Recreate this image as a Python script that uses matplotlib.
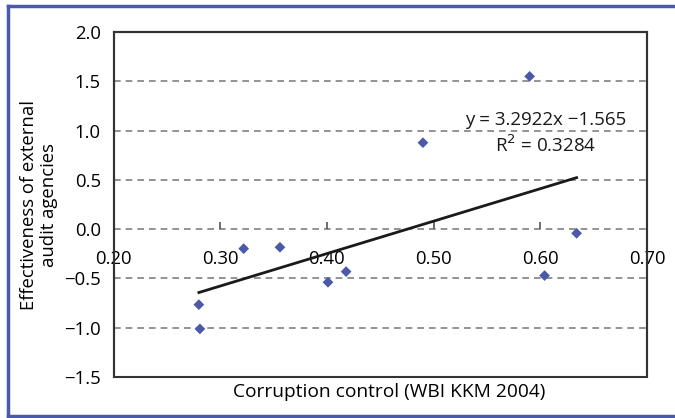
import matplotlib
matplotlib.use("Agg")
import matplotlib.pyplot as plt
from matplotlib.lines import Line2D
from matplotlib.patches import Rectangle
import numpy as np

plt.rcParams['font.family'] = ['Open Sans', 'DejaVu Sans']

corruption_control = [0.590, 0.490, 0.280, 0.281, 0.322, 0.356, 0.401, 0.418, 0.604, 0.634]
audit_effectiveness = [1.55, 0.877, -0.766, -1.012, -0.198, -0.184, -0.539, -0.431, -0.471, -0.042]
slope = 3.2922
intercept = -1.565
r_squared = 0.3284
x_ticks = [0.20, 0.30, 0.40, 0.50, 0.60, 0.70]
y_ticks = [-1.5, -1.0, -0.5, 0.0, 0.5, 1.0, 1.5, 2.0]

FS = 13.3
fig = plt.figure(figsize=(6.75, 4.18), dpi=100)
ax = fig.add_axes([113.5/675, 1 - 377/418, (647-113.5)/675, (377-32)/418])
ax.set_xlim(0.20, 0.70)
ax.set_ylim(-1.5, 2.0)

# gridlines
for yv in y_ticks:
    if yv in (-1.5, 2.0):
        continue
    ax.axhline(yv, color='#808080', linestyle=(0, (4, 3)), linewidth=1.2, zorder=1)

ax.scatter(corruption_control, audit_effectiveness, marker='D', s=30,
           color='#4a5aa8', edgecolors='none', zorder=3)

xs = np.array([min(corruption_control), max(corruption_control)])
ax.plot(xs, slope * xs + intercept, color='#1a1a1a', linewidth=2, zorder=2)

ax.text(0.605, 1.107, f"y = {slope}x \u2212{abs(intercept)}", fontsize=13.5,
        ha='center', va='center', color='#1a1a1a', zorder=4)
ax.text(0.605, 0.854, f"R$^2$ = {r_squared}", fontsize=13.5,
        ha='center', va='center', color='#1a1a1a', zorder=4)

for s in ['left', 'top', 'right']:
    ax.spines[s].set_color('#333333')
    ax.spines[s].set_linewidth(1.5)
ax.spines['right'].set_color('#555555')
ax.spines['bottom'].set_position(('data', 0))
ax.spines['bottom'].set_visible(False)
ax.add_patch(Rectangle((0, 0), 1, 1, transform=ax.transAxes, fill=False,
                       edgecolor='#333333', linewidth=1.5, zorder=5, clip_on=False))

ax.set_yticks(y_ticks)
ax.set_yticklabels([f"{v:.1f}".replace('-', '\u2212') for v in y_ticks])
ax.tick_params(axis='y', length=0, pad=9, labelsize=FS)

ax.set_xticks(x_ticks)
ax.set_xticklabels([f"{v:.2f}" for v in x_ticks])
ax.tick_params(axis='x', direction='in', length=5, width=1.2, color='#555555',
               pad=15, labelsize=FS)

fig.text(39/675, 1 - 205/418, "Effectiveness of external\naudit agencies", fontsize=FS,
         rotation=90, ha='center', va='center', linespacing=1.15, multialignment='center')
fig.text(389/675, 1 - 392/418, "Corruption control (WBI KKM 2004)", fontsize=13.8,
         ha='center', va='center')

# outer blue frame (top, left, bottom)
bc = '#4a5aaa'
fig.add_artist(Line2D([8/675, 1], [1 - 6/418, 1 - 6/418], transform=fig.transFigure, color=bc, linewidth=2.5))
fig.add_artist(Line2D([8/675, 8/675], [1 - 6/418, 1 - 416/418], transform=fig.transFigure, color=bc, linewidth=2.5))
fig.add_artist(Line2D([8/675, 1], [1 - 416/418, 1 - 416/418], transform=fig.transFigure, color=bc, linewidth=2.5))

fig.savefig("out.png", dpi=100)
